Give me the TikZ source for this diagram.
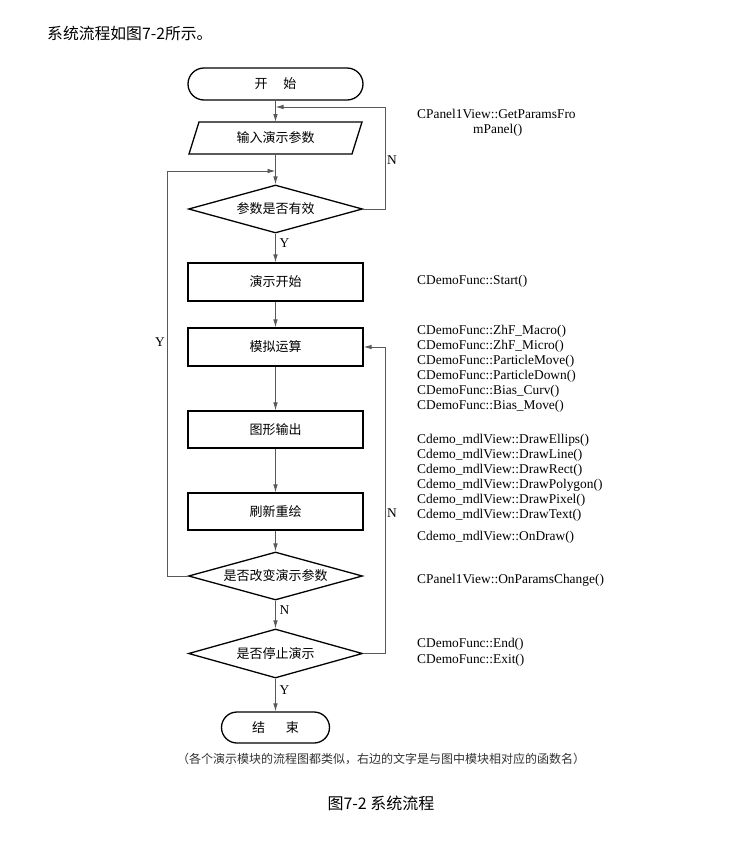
\documentclass[tikz,border=0pt]{standalone}
\usepackage{fontspec}
\setmainfont{Liberation Serif}
\newfontfamily\cjk{Noto Sans CJK SC}
\usetikzlibrary{shapes.geometric,arrows.meta}
\begin{document}
\begin{tikzpicture}[x=1pt,y=-1pt,
  cjktext/.style={font=\cjk\fontsize{13}{15}\selectfont},
  box/.style={draw, line width=1.3pt, minimum width=175pt, minimum height=37pt, inner sep=0pt, cjktext},
  term/.style={draw, line width=1.3pt, minimum height=32pt, rounded corners=16pt, inner sep=0pt, cjktext},
  decide/.style={draw, diamond, aspect=3.6, line width=1.3pt, minimum width=174pt, minimum height=48pt, inner sep=0pt, cjktext},
  conn/.style={draw=black!65, line width=0.9pt, -{Latex[length=8pt,width=4.6pt]}},
  lab/.style={font=\fontsize{13.4}{15}\selectfont, inner sep=0pt},
  func/.style={font=\fontsize{13.4}{15}\selectfont, anchor=west, inner sep=0pt}
]
\useasboundingbox[fill=white] (0,0) rectangle (730,852);

% header
\node[anchor=west, inner sep=0pt, font=\cjk\fontsize{15.8}{18}\selectfont] (hdr) at (47,33) {系统流程如图7-2所示。};

% nodes
\node[term, minimum width=175pt] (start) at (275.5,84) {开\hspace{1.2em}始};
\draw[line width=1.3pt] (199,122) -- (362,122) -- (352,154) -- (189,154) -- cycle;
\node[cjktext, inner sep=0pt] (inp) at (275.5,138) {输入演示参数};
\coordinate (inTop) at (275.5,122);
\coordinate (inBot) at (275.5,154);
\node[decide] (d1) at (275.5,209) {参数是否有效};
\node[box, minimum height=38pt] (s) at (275.5,282) {演示开始};
\node[box, minimum height=38pt] (sim) at (275.5,347) {模拟运算};
\node[box] (out) at (275.5,429.5) {图形输出};
\node[box] (ref) at (275.5,511.5) {刷新重绘};
\node[decide] (d2) at (275.5,576) {是否改变演示参数};
\node[decide, minimum height=49pt] (d3) at (275.5,653.5) {是否停止演示};
\node[term, minimum width=108pt, minimum height=31pt, rounded corners=15.5pt] (e) at (275.5,727.5) {结\hspace{1.6em}束};

% connectors
\coordinate (j1) at (275.5,107);
\coordinate (j2) at (275.5,171);
\coordinate (n1) at (385,107);
\coordinate (y1) at (167,171);
\coordinate (n2) at (385,347);
\draw[conn] (start.south) -- (inTop);
\draw[conn] (inBot) -- (d1.north);
\draw[conn] (d1.south) -- (s.north);
\draw[conn] (s.south) -- (sim.north);
\draw[conn] (sim.south) -- (out.north);
\draw[conn] (out.south) -- (ref.north);
\draw[conn] (ref.south) -- (d2.north);
\draw[conn] (d2.south) -- (d3.north);
\draw[conn] (d3.south) -- (e.north);
\draw[conn] (d1.east) -| (n1) -- (j1);
\draw[conn] (d2.west) -| (y1) -- (j2);
\draw[conn] (d3.east) -| (n2) -- (sim.east);

% branch labels
\node[lab] (l1) at (392,160) {N};
\node[lab] (l2) at (284.5,243) {Y};
\node[lab] (l3) at (160,342) {Y};
\node[lab] (l4) at (392,513) {N};
\node[lab] (l5) at (284.5,610) {N};
\node[lab] (l6) at (284.5,690) {Y};

% function names
\node[func] (f1) at (417,114) {CPanel1View::GetParamsFro};
\node[func] (f1b) at (473,130) {mPanel()};
\node[func] (f2) at (417,281) {CDemoFunc::Start()};
\node[func] (f3) at (417,331) {CDemoFunc::ZhF\_Macro()};
\node[func] (f4) at (417,346) {CDemoFunc::ZhF\_Micro()};
\node[func] (f5) at (417,361) {CDemoFunc::ParticleMove()};
\node[func] (f6) at (417,376) {CDemoFunc::ParticleDown()};
\node[func] (f7) at (417,391) {CDemoFunc::Bias\_Curv()};
\node[func] (f8) at (417,406) {CDemoFunc::Bias\_Move()};
\node[func] (g1) at (417,440) {Cdemo\_mdlView::DrawEllips()};
\node[func] (g2) at (417,455) {Cdemo\_mdlView::DrawLine()};
\node[func] (g3) at (417,470) {Cdemo\_mdlView::DrawRect()};
\node[func] (g4) at (417,485) {Cdemo\_mdlView::DrawPolygon()};
\node[func] (g5) at (417,500) {Cdemo\_mdlView::DrawPixel()};
\node[func] (g6) at (417,515) {Cdemo\_mdlView::DrawText()};
\node[func] (g7) at (417,537) {Cdemo\_mdlView::OnDraw()};
\node[func] (h1) at (417,580) {CPanel1View::OnParamsChange()};
\node[func] (h2) at (417,644) {CDemoFunc::End()};
\node[func] (h3) at (417,660) {CDemoFunc::Exit()};

% captions
\node[inner sep=0pt, text=black!80, font=\cjk\fontsize{12}{14}\selectfont] (cap) at (381,759) {（各个演示模块的流程图都类似，右边的文字是与图中模块相对应的函数名）};
\node[inner sep=0pt, font=\cjk\fontsize{16}{18}\selectfont] (title) at (381,803) {图7-2\ 系统流程};
\end{tikzpicture}
\end{document}
